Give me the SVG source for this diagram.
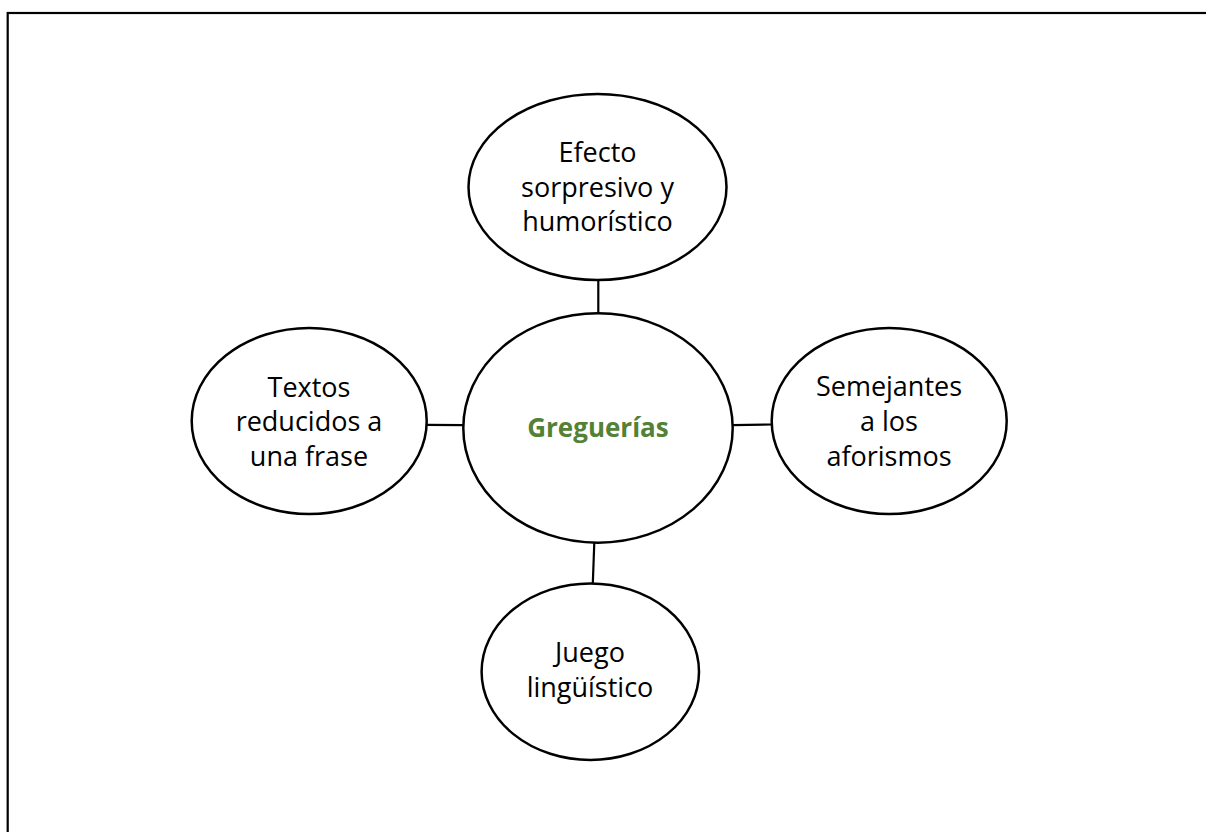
<svg xmlns="http://www.w3.org/2000/svg" width="1206" height="832" viewBox="0 0 1206 832">
<style>
.node ellipse{fill:#fff;stroke:#000;stroke-width:2.5}
.node text{font-family:"Open Sans","Liberation Sans",sans-serif;font-size:27px;fill:#000;text-anchor:middle}
.node text.main{font-weight:bold;fill:#538135;font-size:26px}
.conn line{stroke:#000;stroke-width:2.2}
</style>
<rect x="0" y="0" width="1206" height="832" fill="#fff"/>
<rect x="7.7" y="13" width="1210" height="840" fill="none" stroke="#000" stroke-width="2.2"/>
<g id="connectors" class="conn">
<line x1="598.3" y1="280" x2="598.3" y2="313.5"/>
<line x1="427" y1="424.8" x2="463.5" y2="425.2"/>
<line x1="732.5" y1="425.2" x2="771.8" y2="424.5"/>
<line x1="594.3" y1="542.5" x2="592.8" y2="583.5"/>
</g>
<g id="node-center" class="node">
<ellipse cx="598" cy="428" rx="134.7" ry="114.7"/>
<text class="main" x="598" y="436.7">Greguerías</text>
</g>
<g id="node-top" class="node">
<ellipse cx="597.5" cy="187" rx="129" ry="93"/>
<text x="597.5" y="161.7">Efecto</text>
<text x="597.5" y="196.7">sorpresivo y</text>
<text x="597.5" y="230.7">humorístico</text>
</g>
<g id="node-left" class="node">
<ellipse cx="309.2" cy="421" rx="117.5" ry="93"/>
<text x="309" y="396.7">Textos</text>
<text x="309" y="431">reducidos a</text>
<text x="309" y="465.7">una frase</text>
</g>
<g id="node-right" class="node">
<ellipse cx="889.2" cy="421" rx="117.5" ry="93"/>
<text x="889" y="396">Semejantes</text>
<text x="889" y="430.7">a los</text>
<text x="889" y="465.7">aforismos</text>
</g>
<g id="node-bottom" class="node">
<ellipse cx="590.3" cy="671.7" rx="108.7" ry="88.3"/>
<text x="590" y="662.3">Juego</text>
<text x="590" y="696.7">lingüístico</text>
</g>
</svg>
